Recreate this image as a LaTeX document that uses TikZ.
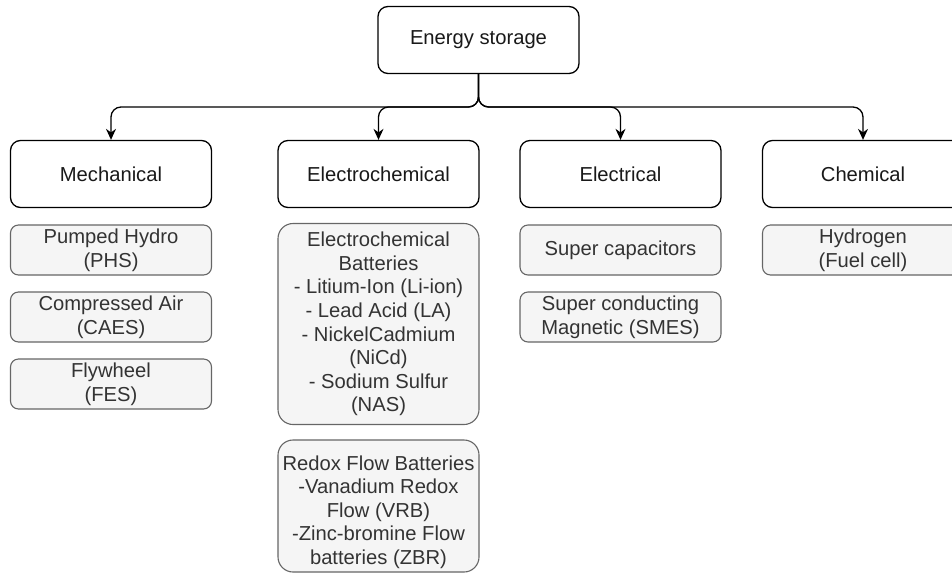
\documentclass[tikz,border=0pt]{standalone}
\usepackage{fontspec}
\setmainfont{Liberation Sans}
\usetikzlibrary{arrows.meta}
\definecolor{subfill}{HTML}{F5F5F5}
\definecolor{subline}{HTML}{666666}
\definecolor{subtext}{HTML}{333333}
\begin{document}
\begin{tikzpicture}[x=1pt,y=-1pt,
  main/.style={draw=black, line width=1.3pt, rounded corners=10pt, fill=white,
    minimum width=201pt, minimum height=67pt, inner sep=0pt, align=center,
    font=\fontsize{20.2}{23.6}\selectfont, text=black!90},
  sub/.style={draw=subline, line width=1.1pt, rounded corners=8pt, fill=subfill,
    minimum width=201pt, minimum height=50pt, inner sep=0pt, align=center,
    font=\fontsize{20.2}{23.6}\selectfont, text=subtext},
  tall/.style={sub, rounded corners=15pt},
  subtxt/.style={align=center, inner sep=0pt, font=\fontsize{20.2}{23.6}\selectfont, text=subtext},
  edge/.style={draw=black, line width=1.3pt, rounded corners=10pt,
    -{Stealth[length=11pt,width=10pt]}}
]
\useasboundingbox (0,0) rectangle (952,573);
\clip (0,0) rectangle (952,573);

% top
\node[main] (es) at (478.5,40) {Energy storage};
\coordinate (j) at (478.5,107);

% categories
\node[main] (mech)  at (111,174)   {Mechanical};
\node[main] (echem) at (378.5,174) {Electrochemical};
\node[main] (elec)  at (620.5,174) {Electrical};
\node[main] (chem)  at (863,174)   {Chemical};

% connectors
\draw[edge] (es.south) -- (j) -| (mech.north);
\draw[edge] (es.south) -- (j) -| (echem.north);
\draw[edge] (es.south) -- (j) -| (elec.north);
\draw[edge] (es.south) -- (j) -| (chem.north);

% mechanical items
\node[sub] (phs)  at (111,250) {Pumped Hydro\\(PHS)};
\node[sub] (caes) at (111,317) {Compressed Air\\(CAES)};
\node[sub] (fes)  at (111,384) {Flywheel\\(FES)};

% electrochemical items
\node[tall, minimum height=201pt] (bat) at (378.5,324)
  {Electrochemical\\Batteries\\- Litium-Ion (Li-ion)\\- Lead Acid (LA)\\- NickelCadmium\\(NiCd)\\- Sodium Sulfur\\(NAS)};
\node[tall, minimum height=132pt] (rf) at (378.5,506) {};
\node[subtxt] (rft) at (378.5,512)
  {Redox Flow Batteries\\-Vanadium Redox\\Flow (VRB)\\-Zinc-bromine Flow\\batteries (ZBR)};

% electrical items
\node[sub] (sc)   at (620.5,250) {Super capacitors};
\node[sub] (smes) at (620.5,317) {Super conducting\\Magnetic (SMES)};

% chemical items
\node[sub] (h2) at (863,250) {Hydrogen\\(Fuel cell)};
\end{tikzpicture}
\end{document}
